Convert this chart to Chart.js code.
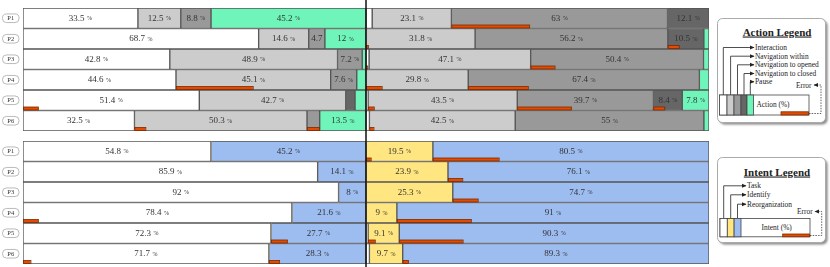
<!DOCTYPE html>
<html>
<head>
<meta charset="utf-8">
<script src="https://cdn.jsdelivr.net/npm/chart.js@4.4.0/dist/chart.umd.min.js"></script>
<style>
  body { margin: 0; background: #fff; }
  #wrap { position: relative; width: 830px; height: 267px; overflow: hidden; font-family: "Liberation Serif", serif; }
  canvas { position: absolute; left: 0; }
  #top { top: 0; }
  #bottom { top: 135px; }
  svg { position: absolute; left: 712px; top: 0; }
  svg text { font-family: "Liberation Serif", serif; fill: #222; }
</style>
</head>
<body>
<div id="wrap">
  <canvas id="top" width="712" height="135"></canvas>
  <canvas id="bottom" width="712" height="132"></canvas>

  <svg width="118" height="267" viewBox="0 0 118 267">
    <defs>
      <filter id="sh" x="-10%" y="-10%" width="130%" height="130%">
        <feGaussianBlur stdDeviation="1.2"/>
      </filter>
      <marker id="arr" markerWidth="5" markerHeight="5" refX="4" refY="2.5" orient="auto" markerUnits="userSpaceOnUse">
        <path d="M0,0.5 L4.5,2.5 L0,4.5 Z" fill="#222"/>
      </marker>
    </defs>

    <!-- Action legend -->
    <rect x="7.5" y="20.5" width="108" height="104" rx="5" fill="#888" filter="url(#sh)"/>
    <rect x="5.5" y="18.5" width="108" height="104" rx="5" fill="#fff" stroke="#aaa"/>
    <text x="65" y="35.5" text-anchor="middle" font-size="11" font-weight="bold" text-decoration="underline">Action Legend</text>
    <g stroke="#222" stroke-width="0.8" fill="none" marker-end="url(#arr)">
      <path d="M11.3 95 V47.5 H42"/>
      <path d="M18.6 95 V56.2 H42"/>
      <path d="M25.5 95 V64.8 H42"/>
      <path d="M32 95 V73.5 H42"/>
      <path d="M38.3 95 V81.8 H42"/>
    </g>
    <g stroke="#444" stroke-width="0.8">
      <rect x="7.5" y="95" width="89.5" height="20" fill="#fff"/>
      <rect x="7.5" y="95" width="7.5" height="20" fill="#fff"/>
      <rect x="15" y="95" width="7" height="20" fill="#cccccc"/>
      <rect x="22" y="95" width="7" height="20" fill="#999999"/>
      <rect x="29" y="95" width="6" height="20" fill="#666666"/>
      <rect x="35" y="95" width="6.5" height="20" fill="#6ff5b9"/>
      <rect x="69" y="111.8" width="27.5" height="3.2" fill="#e54b00" stroke="#7a2a00"/>
    </g>
    <path d="M97 113.5 H109 V85 H102" stroke="#222" stroke-width="0.7" stroke-dasharray="1.5,1.2" fill="none" marker-end="url(#arr)"/>
    <g font-size="7.4">
      <text x="43" y="50">Interaction</text>
      <text x="43" y="58.7">Navigation within</text>
      <text x="43" y="67.3">Navigation to opened</text>
      <text x="43" y="76">Navigation to closed</text>
      <text x="43" y="84.3">Pause</text>
      <text x="99.5" y="87.5" text-anchor="end">Error</text>
      <text x="61" y="107" text-anchor="middle">Action (%)</text>
    </g>

    <!-- Intent legend -->
    <rect x="7.5" y="159.5" width="108" height="85" rx="5" fill="#888" filter="url(#sh)"/>
    <rect x="5.5" y="157.5" width="108" height="85" rx="5" fill="#fff" stroke="#aaa"/>
    <text x="65" y="175.5" text-anchor="middle" font-size="11" font-weight="bold" text-decoration="underline">Intent Legend</text>
    <g stroke="#222" stroke-width="0.8" fill="none" marker-end="url(#arr)">
      <path d="M11.7 218.5 V185.8 H34"/>
      <path d="M18.7 218.5 V194.8 H34"/>
      <path d="M25.5 218.5 V204.2 H34"/>
    </g>
    <g stroke="#444" stroke-width="0.8">
      <rect x="8" y="218.5" width="90" height="18.3" fill="#fff"/>
      <rect x="8" y="218.5" width="7.3" height="18.3" fill="#fff"/>
      <rect x="15.3" y="218.5" width="6.8" height="18.3" fill="#ffe680"/>
      <rect x="22.1" y="218.5" width="6.9" height="18.3" fill="#9dbcf0"/>
      <rect x="70.7" y="234" width="26.8" height="2.8" fill="#e54b00" stroke="#7a2a00"/>
    </g>
    <path d="M98 235.5 H109.7 V211.5 H103" stroke="#222" stroke-width="0.7" stroke-dasharray="1.5,1.2" fill="none" marker-end="url(#arr)"/>
    <g font-size="7.4">
      <text x="35" y="188.3">Task</text>
      <text x="35" y="197.3">Identify</text>
      <text x="35" y="206.7">Reorganization</text>
      <text x="100.7" y="214" text-anchor="end">Error</text>
      <text x="64.7" y="229.5" text-anchor="middle">Intent (%)</text>
    </g>
  </svg>
</div>

<script>
const participants = ['P1', 'P2', 'P3', 'P4', 'P5', 'P6'];

// Action (%) - left half
const interactionA  = [33.5, 68.7, 42.8, 44.6, 51.4, 32.5];
const navWithinA    = [12.5, 14.6, 48.9, 45.1, 42.7, 50.3];
const navOpenedA    = [8.8, 4.7, 7.2, 7.6, 0, 3.7];
const navClosedA    = [0, 0, 0, 0, 2.7, 0];
const pauseA        = [45.2, 12, 1.1, 2.7, 3.2, 13.5];
// Action (%) - right half
const interactionB  = [1.8, 0, 0.9, 0, 0.6, 1.0];
const navWithinB    = [23.1, 31.8, 47.1, 29.8, 43.5, 42.5];
const navOpenedB    = [63, 56.2, 50.4, 67.4, 39.7, 55];
const navClosedB    = [12.1, 10.5, 0, 0, 8.4, 0];
const pauseB        = [0, 1.5, 1.6, 2.8, 7.8, 1.5];

// Action errors
const interactionErrA = [0, 0, 0, 0, 4.4, 0];
const navWithinErrA   = [0, 0, 0, 22.4, 0, 3.2];
const navOpenedErrA   = [0, 0, 0, 0, 0, 3.5];
const navClosedErrA   = [0, 0, 0, 0, 0, 0];
const pauseErrA       = [0, 0, 0, 0, 0, 0];
const interactionErrB = [0, 0, 0.4, 0, 0, 0];
const navWithinErrB   = [0, 0.6, 0, 4.6, 1.7, 1.2];
const navOpenedErrB   = [22.7, 0, 7.0, 17.4, 15.7, 0];
const navClosedErrB   = [0, 3.2, 0, 0, 3.2, 0];
const pauseErrB       = [0, 0, 0, 0, 0, 0];

// Intent (%) - left half
const taskA     = [54.8, 85.9, 92, 78.4, 72.3, 71.7];
const identifyA = [0, 0, 0, 0, 0, 0];
const reorgA    = [45.2, 14.1, 8, 21.6, 27.7, 28.3];
// Intent (%) - right half
const taskB     = [0, 0, 0, 0, 0.6, 1.0];
const identifyB = [19.5, 23.9, 25.3, 9, 9.1, 9.7];
const reorgB    = [80.5, 76.1, 74.7, 91, 90.3, 89.3];

// Intent errors
const taskErrA     = [0, 0, 0, 4.4, 0, 2.2];
const identifyErrA = [0, 0, 0, 0, 0, 0];
const reorgErrA    = [0, 0, 0, 0, 4.7, 3.0];
const taskErrB     = [0, 0, 0, 0, 0, 0];
const identifyErrB = [1.4, 0, 0, 0, 2.0, 0];
const reorgErrB    = [19.2, 4.2, 7.3, 21.6, 18.5, 1.6];

const C_WHITE = '#ffffff', C_LIGHT = '#cccccc', C_MID = '#999999', C_DARK = '#666666', C_PAUSE = '#6ff5b9';
const C_YELLOW = '#ffe680', C_BLUE = '#9dbcf0';

// draws value labels, error bars, participant tags and the centre divider
const decorPlugin = {
  id: 'decor',
  afterDatasetsDraw(chart) {
    const ctx = chart.ctx;
    const xs = chart.scales.x, ys = chart.scales.y;
    const unit = xs.getPixelForValue(1) - xs.getPixelForValue(0);
    ctx.save();
    chart.data.datasets.forEach((ds, di) => {
      const meta = chart.getDatasetMeta(di);
      meta.data.forEach((bar, i) => {
        const v = ds.data[i];
        const left = Math.min(bar.x, bar.base), w = Math.abs(bar.x - bar.base);
        // label
        if (v >= 4) {
          const num = String(v);
          ctx.font = '9px "Liberation Serif"';
          const nw = ctx.measureText(num).width;
          let pw = 0;
          if (v >= 7) { ctx.font = '6px "Liberation Serif"'; pw = ctx.measureText(' %').width + 1; }
          let tx = left + w / 2 - (nw + pw) / 2;
          ctx.fillStyle = '#333';
          ctx.textBaseline = 'middle';
          ctx.textAlign = 'left';
          ctx.font = '9px "Liberation Serif"';
          ctx.fillText(num, tx, bar.y);
          if (pw) {
            ctx.font = '6px "Liberation Serif"';
            ctx.fillText(' %', tx + nw + 1, bar.y + 0.5);
          }
        }
        // error bar
        const e = ds.errors[i];
        if (e > 0) {
          const bottom = bar.y + bar.height / 2;
          ctx.fillStyle = '#e54b00';
          ctx.strokeStyle = '#7a2a00';
          ctx.lineWidth = 0.8;
          ctx.fillRect(left, bottom - 3.5, e * unit, 3);
          ctx.strokeRect(left + 0.4, bottom - 3.5, e * unit, 3);
        }
      });
    });
    // participant tags
    chart.data.labels.forEach((lab, i) => {
      const y = ys.getPixelForValue(i);
      ctx.beginPath();
      ctx.roundRect(2.5, y - 4.3, 16.5, 8.6, 4);
      ctx.fillStyle = '#fff';
      ctx.fill();
      ctx.strokeStyle = '#aaa';
      ctx.lineWidth = 0.8;
      ctx.stroke();
      ctx.fillStyle = '#333';
      ctx.font = '6.5px "Liberation Serif"';
      ctx.textAlign = 'center';
      ctx.textBaseline = 'middle';
      ctx.fillText(lab, 10.8, y + 0.3);
    });
    // centre divider
    const mx = xs.getPixelForValue(100);
    ctx.strokeStyle = '#111';
    ctx.lineWidth = 1.5;
    ctx.beginPath();
    ctx.moveTo(mx, 0);
    ctx.lineTo(mx, chart.height);
    ctx.stroke();
    ctx.restore();
  }
};

function makePanel(id, series, padTop, padBottom) {
  new Chart(document.getElementById(id), {
    type: 'bar',
    data: {
      labels: participants,
      datasets: series.map(s => ({
        data: s[0],
        errors: s[1],
        backgroundColor: s[2],
        borderColor: '#555',
        borderWidth: c => (c.raw > 0 ? 1 : 0),
        borderSkipped: false,
        stack: 'all',
        barPercentage: 1,
        categoryPercentage: 1
      }))
    },
    options: {
      indexAxis: 'y',
      responsive: false,
      animation: false,
      layout: { padding: { left: 23, right: 3, top: padTop, bottom: padBottom } },
      scales: {
        x: { stacked: true, min: 0, max: 200, display: false },
        y: { stacked: true, display: false }
      },
      plugins: { legend: { display: false }, tooltip: { enabled: false } }
    },
    plugins: [decorPlugin]
  });
}

makePanel('top', [
  [interactionA, interactionErrA, C_WHITE],
  [navWithinA, navWithinErrA, C_LIGHT],
  [navOpenedA, navOpenedErrA, C_MID],
  [navClosedA, navClosedErrA, C_DARK],
  [pauseA, pauseErrA, C_PAUSE],
  [interactionB, interactionErrB, C_WHITE],
  [navWithinB, navWithinErrB, C_LIGHT],
  [navOpenedB, navOpenedErrB, C_MID],
  [navClosedB, navClosedErrB, C_DARK],
  [pauseB, pauseErrB, C_PAUSE]
], 8, 4);

makePanel('bottom', [
  [taskA, taskErrA, C_WHITE],
  [identifyA, identifyErrA, C_YELLOW],
  [reorgA, reorgErrA, C_BLUE],
  [taskB, taskErrB, C_WHITE],
  [identifyB, identifyErrB, C_YELLOW],
  [reorgB, reorgErrB, C_BLUE]
], 6, 3);
</script>
</body>
</html>
